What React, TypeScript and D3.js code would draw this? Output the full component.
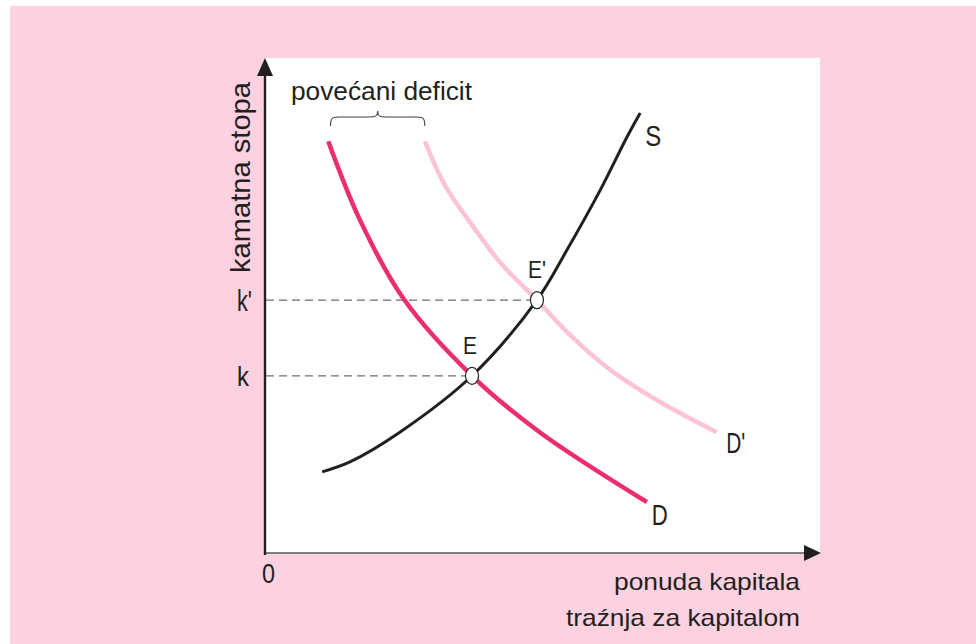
import React from "react";
import * as d3 from "d3";

// Data (in data units: quantity 0..100, interest rate 0..100)
const supplyS: [number, number][] = [
  [10.3, 16.4], [15.3, 18.4], [24.3, 24.4], [37.3, 35.8], [49.0, 51.1], [54.4, 61.2], [60.4, 73.3], [65.2, 84.0], [67.6, 88.9],
];
const demandD: [number, number][] = [
  [11.4, 83.2], [17.1, 67.3], [25.0, 51.3], [37.3, 35.8], [49.5, 24.4], [68.8, 10.3],
];
const demandD2: [number, number][] = [
  [28.8, 83.2], [32.4, 74.3], [36.9, 66.9], [42.3, 58.8], [49.0, 51.1], [55.0, 44.0], [62.2, 37.0], [71.2, 30.5], [81.4, 24.4],
];
const equilibria = [
  { name: "E", x: 37.3, y: 35.8, rate: "k", nameLen: 14, rateSize: 27, rateLen: 12 },
  { name: "E'", x: 49.0, y: 51.1, rate: "k'", nameLen: 18, rateSize: 30, rateLen: 15 },
];
const curveLabels = [
  { text: "S", x: 68.5, y: 82.2, len: 16 },
  { text: "D", x: 69.7, y: 5.7, len: 16 },
  { text: "D'", x: 83.1, y: 20.2, len: 19 },
];
const braceRange: [number, number] = [11.8, 28.8];

const W = 976;
const H = 644;
const X0 = 265, X1 = 820, Y0 = 553, Y1 = 58;

export default function App() {
  const x = d3.scaleLinear().domain([0, 100]).range([X0, X1]);
  const y = d3.scaleLinear().domain([0, 100]).range([Y0, Y1]);
  const line = d3
    .line<[number, number]>()
    .x((d) => x(d[0]))
    .y((d) => y(d[1]))
    .curve(d3.curveCatmullRom.alpha(0.5));

  const font = "'Liberation Sans', Arial, Helvetica, sans-serif";
  const txt = "#231f20";

  const bx0 = x(braceRange[0]);
  const bx1 = x(braceRange[1]);
  const bm = (bx0 + bx1) / 2;
  const byEnd = 126, byMid = 117, byPeak = 111;
  const brace = `M${bx0},${byEnd} C${bx0},${byMid} ${bx0 + 2},${byMid} ${bx0 + 10},${byMid} L${bm - 8},${byMid} C${bm - 2},${byMid} ${bm},${byMid - 1} ${bm},${byPeak} C${bm},${byMid - 1} ${bm + 2},${byMid} ${bm + 8},${byMid} L${bx1 - 10},${byMid} C${bx1 - 2},${byMid} ${bx1},${byMid} ${bx1},${byEnd}`;

  return (
    <svg
      width={W}
      height={H}
      style={{ position: "absolute", left: 0, top: 0, display: "block" }}
      fontFamily={font}
    >
      <rect x={0} y={0} width={W} height={H} fill="#ffffff" />
      <rect x={10} y={6} width={W - 10} height={H - 6} fill="#fdd1df" />
      <rect x={X0} y={Y1} width={X1 - X0} height={Y0 - Y1} fill="#ffffff" />

      {/* dashed guide lines */}
      {equilibria.map((e) => (
        <line
          key={"g" + e.name}
          x1={X0 + 1}
          x2={x(e.x)}
          y1={y(e.y)}
          y2={y(e.y)}
          stroke="#6d6e71"
          strokeWidth={1.3}
          strokeDasharray="8,5"
        />
      ))}

      {/* curves */}
      <path d={line(demandD2) || ""} fill="none" stroke="#fbc3d6" strokeWidth={4.5} />
      <path d={line(demandD) || ""} fill="none" stroke="#ec2e6c" strokeWidth={4.5} />
      <path d={line(supplyS) || ""} fill="none" stroke="#231f20" strokeWidth={3} />

      {/* equilibrium points */}
      {equilibria.map((e) => (
        <ellipse
          key={"p" + e.name}
          cx={x(e.x)}
          cy={y(e.y)}
          rx={6.5}
          ry={8.5}
          fill="#ffffff"
          stroke="#231f20"
          strokeWidth={1.2}
        />
      ))}

      {/* axes */}
      <line x1={X0} x2={X1 - 14} y1={Y0} y2={Y0} stroke="#58595b" strokeWidth={1.6} />
      <path d={`M${X1 + 1},${Y0} L${X1 - 16},${Y0 - 8} L${X1 - 16},${Y0 + 8} Z`} fill="#231f20" />
      <line x1={X0} x2={X0} y1={Y0 + 2} y2={Y1 + 14} stroke="#231f20" strokeWidth={2.4} />
      <path d={`M${X0},${Y1} L${X0 - 8},${Y1 + 18} L${X0 + 8},${Y1 + 18} Z`} fill="#231f20" />

      {/* brace */}
      <path d={brace} fill="none" stroke="#414042" strokeWidth={1.1} />

      {/* texts */}
      <text x={291} y={100} fontSize={25} fill={txt} textLength={181} lengthAdjust="spacingAndGlyphs">
        povećani deficit
      </text>
      <text
        transform="translate(250,273) rotate(-90)"
        fontSize={28}
        fill={txt}
        textLength={191}
        lengthAdjust="spacingAndGlyphs"
      >
        kamatna stopa
      </text>
      <text x={614} y={590} fontSize={24} fill={txt} textLength={186} lengthAdjust="spacingAndGlyphs">
        ponuda kapitala
      </text>
      <text x={566} y={626} fontSize={24} fill={txt} textLength={234} lengthAdjust="spacingAndGlyphs">
        traźnja za kapitalom
      </text>
      <text x={262} y={583} fontSize={28} fill={txt} textLength={13} lengthAdjust="spacingAndGlyphs">0</text>
      {equilibria.map((e) => (
        <text
          key={"k" + e.name}
          x={237}
          y={y(e.y) + e.rateSize * 0.38}
          fontSize={e.rateSize}
          fill={txt}
          textLength={e.rateLen}
          lengthAdjust="spacingAndGlyphs"
        >
          {e.rate}
        </text>
      ))}
      {equilibria.map((e) => (
        <text
          key={"l" + e.name}
          x={x(e.x) - 9}
          y={y(e.y) - 22}
          fontSize={24}
          fill={txt}
          textLength={e.nameLen}
          lengthAdjust="spacingAndGlyphs"
        >
          {e.name}
        </text>
      ))}
      {curveLabels.map((c) => (
        <text
          key={c.text}
          x={x(c.x)}
          y={y(c.y)}
          fontSize={29}
          fill={txt}
          textLength={c.len}
          lengthAdjust="spacingAndGlyphs"
        >
          {c.text}
        </text>
      ))}
    </svg>
  );
}
